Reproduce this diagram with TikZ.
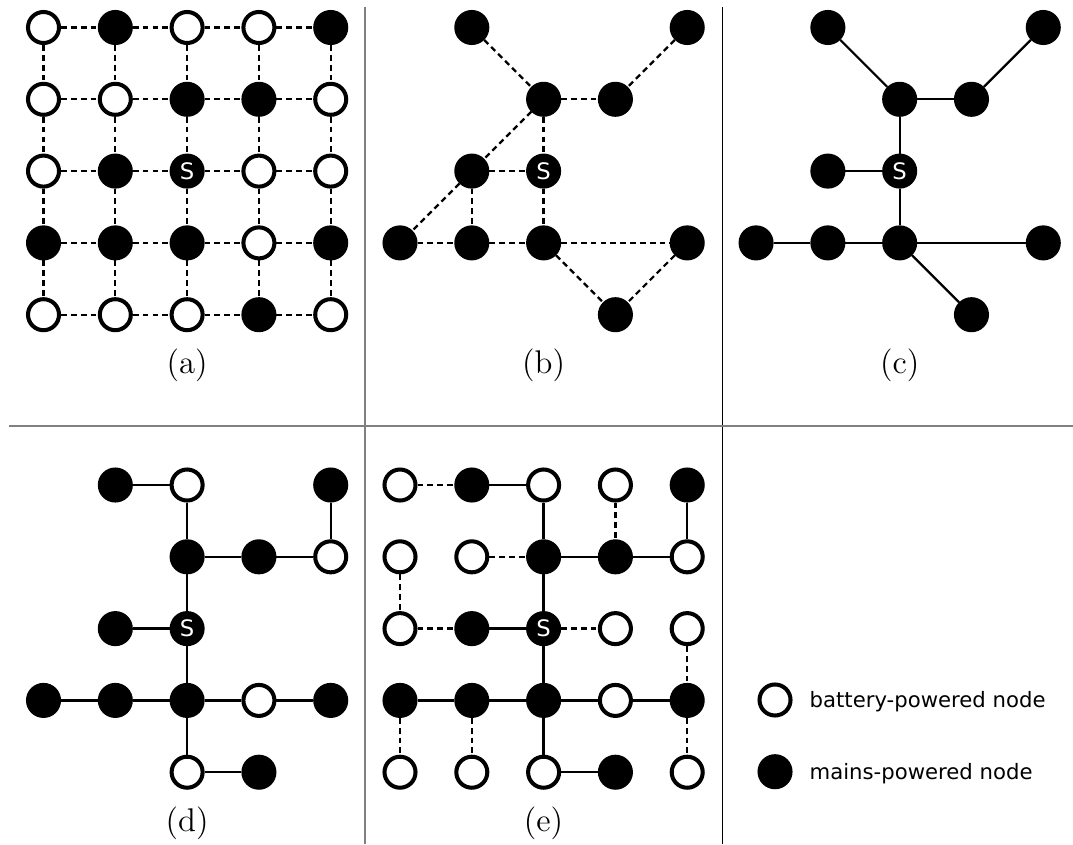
\documentclass[tikz,border=0pt]{standalone}
\usepackage{fontspec}
\newfontfamily\nodefont{DejaVu Sans}
\begin{document}
\begin{tikzpicture}[line join=miter,
	battery/.style={circle, draw=black, fill=white, line width=1.6pt, minimum size=4.32mm, inner sep=0pt},
	mains/.style={battery, fill=black},
	sink/.style={mains, text=white, font=\nodefont\fontsize{9}{10}\selectfont},
	wire/.style={line width=0.9pt},
	link/.style={wire, dash pattern=on 2.3pt off 1.6pt},
	caption/.style={font=\fontsize{13}{15}\selectfont, anchor=base},
	keytext/.style={font=\nodefont\fontsize{8.4}{10}\selectfont, anchor=base west, inner sep=0pt}]
	
	\useasboundingbox (0,0) rectangle (14.944,-11.755);
	
	% Đường chia khung
	\draw[gray, line width=0.8pt] (5.077,-0.104) -- (5.077,-11.755);
	\draw[line width=0.4pt] (10.056,-0.104) -- (10.056,-11.755);
	\draw[gray, line width=0.8pt] (0.125,-5.929) -- (14.944,-5.929);
	
	% Hình (a): toàn bộ lưới
	\begin{scope}[shift={(0.606,-0.383)}]
	\node[battery] (a00) at (0, 0) {};
	\node[mains] (a10) at (1, 0) {};
	\node[battery] (a20) at (2, 0) {};
	\node[battery] (a30) at (3, 0) {};
	\node[mains] (a40) at (4, 0) {};
	\node[battery] (a01) at (0, -1) {};
	\node[battery] (a11) at (1, -1) {};
	\node[mains] (a21) at (2, -1) {};
	\node[mains] (a31) at (3, -1) {};
	\node[battery] (a41) at (4, -1) {};
	\node[battery] (a02) at (0, -2) {};
	\node[mains] (a12) at (1, -2) {};
	\node[sink] (a22) at (2, -2) {S};
	\node[battery] (a32) at (3, -2) {};
	\node[battery] (a42) at (4, -2) {};
	\node[mains] (a03) at (0, -3) {};
	\node[mains] (a13) at (1, -3) {};
	\node[mains] (a23) at (2, -3) {};
	\node[battery] (a33) at (3, -3) {};
	\node[mains] (a43) at (4, -3) {};
	\node[battery] (a04) at (0, -4) {};
	\node[battery] (a14) at (1, -4) {};
	\node[battery] (a24) at (2, -4) {};
	\node[mains] (a34) at (3, -4) {};
	\node[battery] (a44) at (4, -4) {};
	\draw[link] (a00) edge (a10) (a10) edge (a20) (a20) edge (a30) (a30) edge (a40);
	\draw[link] (a01) edge (a11) (a11) edge (a21) (a21) edge (a31) (a31) edge (a41);
	\draw[link] (a02) edge (a12) (a12) edge (a22) (a22) edge (a32) (a32) edge (a42);
	\draw[link] (a03) edge (a13) (a13) edge (a23) (a23) edge (a33) (a33) edge (a43);
	\draw[link] (a04) edge (a14) (a14) edge (a24) (a24) edge (a34) (a34) edge (a44);
	\draw[link] (a00) edge (a01) (a01) edge (a02) (a02) edge (a03) (a03) edge (a04);
	\draw[link] (a10) edge (a11) (a11) edge (a12) (a12) edge (a13) (a13) edge (a14);
	\draw[link] (a20) edge (a21) (a21) edge (a22) (a22) edge (a23) (a23) edge (a24);
	\draw[link] (a30) edge (a31) (a31) edge (a32) (a32) edge (a33) (a33) edge (a34);
	\draw[link] (a40) edge (a41) (a41) edge (a42) (a42) edge (a43) (a43) edge (a44);
	\node[caption] (capa) at (2, -4.82) {(a)};
	\end{scope}
	
	% Hình (b): chỉ các nút dùng điện lưới
	\begin{scope}[shift={(5.571,-0.383)}]
	\node[mains] (b10) at (1, 0) {};
	\node[mains] (b40) at (4, 0) {};
	\node[mains] (b21) at (2, -1) {};
	\node[mains] (b31) at (3, -1) {};
	\node[mains] (b12) at (1, -2) {};
	\node[sink] (b22) at (2, -2) {S};
	\node[mains] (b03) at (0, -3) {};
	\node[mains] (b13) at (1, -3) {};
	\node[mains] (b23) at (2, -3) {};
	\node[mains] (b43) at (4, -3) {};
	\node[mains] (b34) at (3, -4) {};
	\draw[link] (b10) edge (b21) (b40) edge (b31) (b21) edge (b31) (b21) edge (b12) (b21) edge (b22);
	\draw[link] (b12) edge (b22) (b12) edge (b03) (b12) edge (b13) (b22) edge (b23);
	\draw[link] (b03) edge (b13) (b13) edge (b23) (b23) edge (b43) (b23) edge (b34) (b43) edge (b34);
	\node[caption] (capb) at (2, -4.82) {(b)};
	\end{scope}
	
	% Hình (c): cây khung
	\begin{scope}[shift={(10.53,-0.383)}]
	\node[mains] (c10) at (1, 0) {};
	\node[mains] (c40) at (4, 0) {};
	\node[mains] (c21) at (2, -1) {};
	\node[mains] (c31) at (3, -1) {};
	\node[mains] (c12) at (1, -2) {};
	\node[sink] (c22) at (2, -2) {S};
	\node[mains] (c03) at (0, -3) {};
	\node[mains] (c13) at (1, -3) {};
	\node[mains] (c23) at (2, -3) {};
	\node[mains] (c43) at (4, -3) {};
	\node[mains] (c34) at (3, -4) {};
	\draw[wire] (c10) edge (c21) (c40) edge (c31) (c21) edge (c31) (c21) edge (c22) (c12) edge (c22);
	\draw[wire] (c22) edge (c23) (c03) edge (c13) (c13) edge (c23) (c23) edge (c43) (c23) edge (c34);
	\node[caption] (capc) at (2, -4.82) {(c)};
	\end{scope}
	
	% Hình (d)
	\begin{scope}[shift={(0.606,-6.755)}]
	\node[mains] (d10) at (1, 0) {};
	\node[battery] (d20) at (2, 0) {};
	\node[mains] (d40) at (4, 0) {};
	\node[mains] (d21) at (2, -1) {};
	\node[mains] (d31) at (3, -1) {};
	\node[battery] (d41) at (4, -1) {};
	\node[mains] (d12) at (1, -2) {};
	\node[sink] (d22) at (2, -2) {S};
	\node[mains] (d03) at (0, -3) {};
	\node[mains] (d13) at (1, -3) {};
	\node[mains] (d23) at (2, -3) {};
	\node[battery] (d33) at (3, -3) {};
	\node[mains] (d43) at (4, -3) {};
	\node[battery] (d24) at (2, -4) {};
	\node[mains] (d34) at (3, -4) {};
	\draw[wire] (d10) edge (d20) (d20) edge (d21) (d40) edge (d41) (d21) edge (d31) (d31) edge (d41);
	\draw[wire] (d21) edge (d22) (d12) edge (d22) (d22) edge (d23) (d23) edge (d24) (d24) edge (d34);
	\draw[wire] (d03) edge (d13) (d13) edge (d23) (d23) edge (d33) (d33) edge (d43);
	\node[caption] (capd) at (2, -4.82) {(d)};
	\end{scope}
	
	% Hình (e)
	\begin{scope}[shift={(5.571,-6.755)}]
	\node[battery] (e00) at (0, 0) {};
	\node[mains] (e10) at (1, 0) {};
	\node[battery] (e20) at (2, 0) {};
	\node[battery] (e30) at (3, 0) {};
	\node[mains] (e40) at (4, 0) {};
	\node[battery] (e01) at (0, -1) {};
	\node[battery] (e11) at (1, -1) {};
	\node[mains] (e21) at (2, -1) {};
	\node[mains] (e31) at (3, -1) {};
	\node[battery] (e41) at (4, -1) {};
	\node[battery] (e02) at (0, -2) {};
	\node[mains] (e12) at (1, -2) {};
	\node[sink] (e22) at (2, -2) {S};
	\node[battery] (e32) at (3, -2) {};
	\node[battery] (e42) at (4, -2) {};
	\node[mains] (e03) at (0, -3) {};
	\node[mains] (e13) at (1, -3) {};
	\node[mains] (e23) at (2, -3) {};
	\node[battery] (e33) at (3, -3) {};
	\node[mains] (e43) at (4, -3) {};
	\node[battery] (e04) at (0, -4) {};
	\node[battery] (e14) at (1, -4) {};
	\node[battery] (e24) at (2, -4) {};
	\node[mains] (e34) at (3, -4) {};
	\node[battery] (e44) at (4, -4) {};
	\draw[wire] (e10) edge (e20) (e20) edge (e21) (e40) edge (e41) (e21) edge (e31) (e31) edge (e41);
	\draw[wire] (e21) edge (e22) (e12) edge (e22) (e22) edge (e23) (e23) edge (e24) (e24) edge (e34);
	\draw[wire] (e03) edge (e13) (e13) edge (e23) (e23) edge (e33) (e33) edge (e43);
	\draw[link] (e00) edge (e10) (e30) edge (e31) (e11) edge (e21) (e01) edge (e02) (e02) edge (e12);
	\draw[link] (e22) edge (e32) (e42) edge (e43) (e03) edge (e04) (e13) edge (e14) (e43) edge (e44);
	\node[caption] (cape) at (2, -4.82) {(e)};
	\end{scope}
	
	% Chú thích
	\node[battery] (keybattery) at (10.794, -9.749) {};
	\node[mains] (keymains) at (10.794, -10.748) {};
	\node[keytext] (keybatterytext) at (11.27, -9.851) {battery-powered node};
	\node[keytext] (keymainstext) at (11.27, -10.85) {mains-powered node};
\end{tikzpicture}
\end{document}
